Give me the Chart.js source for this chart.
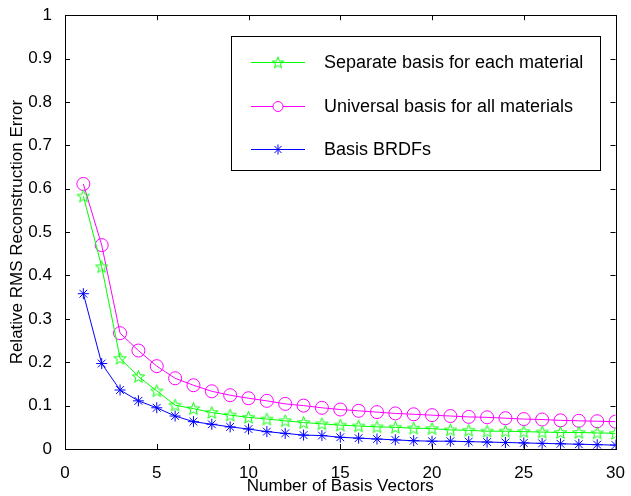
<!DOCTYPE html>
<html>
<head>
<meta charset="utf-8">
<script src="https://cdn.jsdelivr.net/npm/chart.js@4.4.0/dist/chart.umd.min.js"></script>
<style>
  html, body { margin: 0; padding: 0; background: #fff; }
  #wrap { width: 631px; height: 496px; }
</style>
</head>
<body>
<div id="wrap"><canvas id="grafica"></canvas></div>
<script>
// Numero de vectores base
const vectores = [1,2,3,4,5,6,7,8,9,10,11,12,13,14,15,16,17,18,19,20,21,22,23,24,25,26,27,28,29,30];

// Series
const separada = [0.583,0.420,0.209,0.167,0.134,0.101,0.093,0.084,0.078,0.073,
                  0.069,0.065,0.061,0.058,0.055,0.053,0.051,0.050,0.048,0.047,
                  0.044,0.043,0.041,0.041,0.040,0.039,0.038,0.038,0.037,0.036];
const universal = [0.611,0.470,0.267,0.227,0.191,0.163,0.147,0.133,0.124,0.117,
                   0.111,0.104,0.100,0.095,0.091,0.088,0.085,0.082,0.080,0.078,
                   0.076,0.074,0.073,0.071,0.069,0.068,0.066,0.065,0.064,0.063];
const brdfs = [0.358,0.197,0.136,0.111,0.095,0.076,0.063,0.057,0.051,0.046,
               0.040,0.036,0.032,0.031,0.027,0.025,0.023,0.021,0.019,0.018,
               0.018,0.017,0.016,0.015,0.014,0.013,0.012,0.011,0.010,0.009];

const nombres = ['Separate basis for each material', 'Universal basis for all materials', 'Basis BRDFs'];
const xTicks = [0,5,10,15,20,25,30];
const yTicks = [0,0.1,0.2,0.3,0.4,0.5,0.6,0.7,0.8,0.9,1];

const fuente = '"Liberation Sans", Arial, Helvetica, sans-serif';

// Estrella de cinco puntas (pentagrama hueco)
function crearEstrella(r, color) {
    const c = document.createElement('canvas');
    const s = Math.ceil(r * 2 + 4);
    c.width = s; c.height = s;
    const g = c.getContext('2d');
    g.strokeStyle = color;
    g.lineWidth = 1;
    g.beginPath();
    for (let i = 0; i < 10; i++) {
        const rad = i % 2 === 0 ? r : r * 0.42;
        const ang = -Math.PI / 2 + i * Math.PI / 5;
        const px = s / 2 + rad * Math.cos(ang);
        const py = s / 2 + rad * Math.sin(ang) + 0.5;
        if (i === 0) g.moveTo(px, py); else g.lineTo(px, py);
    }
    g.closePath();
    g.stroke();
    return c;
}
const estrella = crearEstrella(6.5, '#00ff00');
const estrellaLeyenda = crearEstrella(6, '#00ff00');

const puntos = arr => arr.map((v, i) => ({ x: vectores[i], y: v }));

// Marco, marcas interiores y leyenda al estilo MATLAB
const marcoPlugin = {
    id: 'marco',
    afterDatasetsDraw(chart) {
        const { ctx, chartArea: a, scales } = chart;
        ctx.save();
        ctx.strokeStyle = '#000';
        ctx.lineWidth = 1;
        ctx.beginPath();
        xTicks.forEach(t => {
            const px = Math.round(scales.x.getPixelForValue(t)) + 0.5;
            ctx.moveTo(px, a.bottom); ctx.lineTo(px, a.bottom - 5);
            ctx.moveTo(px, a.top); ctx.lineTo(px, a.top + 5);
        });
        yTicks.forEach(t => {
            const py = Math.round(scales.y.getPixelForValue(t)) + 0.5;
            ctx.moveTo(a.left, py); ctx.lineTo(a.left + 5, py);
            ctx.moveTo(a.right, py); ctx.lineTo(a.right - 5, py);
        });
        ctx.stroke();
        ctx.strokeRect(Math.round(a.left) + 0.5, Math.round(a.top) + 0.5,
                       Math.round(a.right - a.left), Math.round(a.bottom - a.top));

        // leyenda
        const bx = 231.5, by = 36.5, bw = 369, bh = 134;
        ctx.fillStyle = '#fff';
        ctx.fillRect(bx, by, bw, bh);
        ctx.strokeRect(bx, by, bw, bh);
        const colores = ['#00ff00', '#ff00ff', '#0000ff'];
        const filas = [62, 106, 149];
        ctx.font = '18px ' + fuente;
        ctx.textBaseline = 'middle';
        filas.forEach((fy, i) => {
            ctx.strokeStyle = colores[i];
            ctx.beginPath();
            ctx.moveTo(251, fy + 0.5); ctx.lineTo(305, fy + 0.5);
            ctx.stroke();
            const cx = 278;
            if (i === 0) {
                ctx.drawImage(estrellaLeyenda, cx - estrellaLeyenda.width / 2, fy - estrellaLeyenda.height / 2 + 0.5);
            } else if (i === 1) {
                ctx.fillStyle = '#fff';
                ctx.beginPath(); ctx.arc(cx, fy + 0.5, 5, 0, Math.PI * 2); ctx.fill(); ctx.stroke();
            } else {
                ctx.beginPath();
                for (let k = 0; k < 4; k++) {
                    const ang = k * Math.PI / 4;
                    ctx.moveTo(cx - 5 * Math.sin(ang), fy + 0.5 - 5 * Math.cos(ang));
                    ctx.lineTo(cx + 5 * Math.sin(ang), fy + 0.5 + 5 * Math.cos(ang));
                }
                ctx.stroke();
            }
            ctx.fillStyle = '#000';
            ctx.fillText(nombres[i], 324, fy + 1);
        });
        ctx.restore();
    }
};

const ctx = document.getElementById('grafica').getContext('2d');
new Chart(ctx, {
    type: 'line',
    data: {
        datasets: [
            {
                label: nombres[0],
                data: puntos(separada),
                borderColor: '#00ff00',
                backgroundColor: '#00ff00',
                borderWidth: 1,
                pointStyle: estrella,
                pointRadius: 7
            },
            {
                label: nombres[1],
                data: puntos(universal),
                borderColor: '#ff00ff',
                backgroundColor: 'rgba(255,255,255,0)',
                borderWidth: 1,
                pointStyle: 'circle',
                pointRadius: 6.5,
                pointBorderWidth: 1
            },
            {
                label: nombres[2],
                data: puntos(brdfs),
                borderColor: '#0000ff',
                backgroundColor: '#0000ff',
                borderWidth: 1,
                pointStyle: 'star',
                pointRadius: 5.5,
                pointBorderWidth: 1
            }
        ]
    },
    options: {
        responsive: true,
        maintainAspectRatio: false,
        animation: false,
        layout: { padding: { left: 0, right: 8, top: 15, bottom: 0 } },
        scales: {
            x: {
                type: 'linear',
                min: 0, max: 30,
                afterBuildTicks: s => { s.ticks = xTicks.map(v => ({ value: v })); },
                afterFit: s => { s.height = 47; },
                grid: { display: false },
                border: { display: true, color: '#000' },
                ticks: { color: '#000', font: { family: fuente, size: 17 }, padding: 6, maxRotation: 0 },
                title: { display: true, text: 'Number of Basis Vectors', color: '#000', font: { family: fuente, size: 17 }, padding: { top: 0, bottom: -1 } }
            },
            y: {
                type: 'linear',
                min: 0, max: 1,
                afterBuildTicks: s => { s.ticks = yTicks.map(v => ({ value: v })); },
                afterFit: s => { s.width = 65; },
                grid: { display: false },
                border: { display: true, color: '#000' },
                ticks: { color: '#000', font: { family: fuente, size: 17 }, padding: 5,
                         callback: v => String(Math.round(v * 10) / 10) },
                title: { display: true, text: 'Relative RMS Reconstruction Error', color: '#000', font: { family: fuente, size: 17 }, padding: { top: 7, bottom: 0 } }
            }
        },
        plugins: {
            legend: { display: false },
            tooltip: { enabled: false }
        }
    },
    plugins: [marcoPlugin]
});
</script>
</body>
</html>
